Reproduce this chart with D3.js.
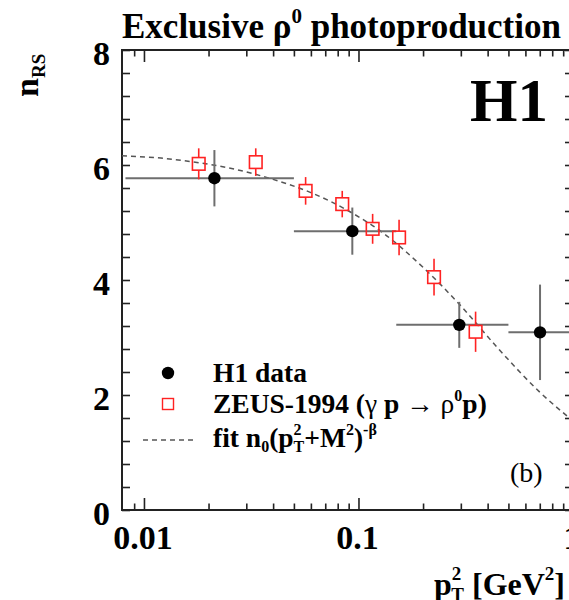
<!DOCTYPE html>
<html>
<head>
<meta charset="utf-8">
<script src="https://cdn.jsdelivr.net/npm/d3@7"></script>
<style>
  html, body { margin: 0; padding: 0; background: #fff; }
  svg { display: block; }
  text { font-family: "Liberation Serif", "Times New Roman", serif; }
</style>
</head>
<body>
<script>
// H1 measurement: bin centres, bin edges, n_RS values and errors
const h1X    = [0.0213, 0.0936, 0.295, 0.702];
const h1XLo  = [0.0082, 0.05, 0.15, 0.5];
const h1XHi  = [0.05, 0.15, 0.5, 1.0];
const h1Y    = [5.77, 4.85, 3.22, 3.09];
const h1Err  = [0.49, 0.41, 0.40, 0.83];

// ZEUS-1994 points
const zeusX   = [0.0180, 0.0332, 0.0567, 0.0840, 0.1164, 0.1546, 0.2250, 0.3515];
const zeusY   = [6.02, 6.05, 5.55, 5.32, 4.89, 4.74, 4.05, 3.10];
const zeusErr = [0.27, 0.24, 0.24, 0.23, 0.26, 0.31, 0.32, 0.35];

// fitted curve n0 (pT^2 + M^2)^-beta, sampled
const fitX = [0.0079, 0.012, 0.018, 0.027, 0.04, 0.06, 0.09, 0.13, 0.2, 0.3, 0.45, 0.7, 1.0];
const fitY = [6.16, 6.12, 6.04, 5.92, 5.75, 5.52, 5.20, 4.82, 4.22, 3.55, 2.80, 2.05, 1.55];

// axis ticks
const xMajorTicks = [0.01, 0.1, 1];
const xTickLabels = ["0.01", "0.1", "1"];
const xMinorTicks = [0.009, 0.02, 0.03, 0.04, 0.05, 0.06, 0.07, 0.08, 0.09,
                     0.2, 0.3, 0.4, 0.5, 0.6, 0.7, 0.8, 0.9];
const yMajorTicks = [0, 2, 4, 6, 8];
const yTickLabels = ["0", "2", "4", "6", "8"];
const yMinorTicks = [0.4, 0.8, 1.2, 1.6, 2.4, 2.8, 3.2, 3.6, 4.4, 4.8, 5.2, 5.6, 6.4, 6.8, 7.2, 7.6];

const W = 569, H = 600;
const svg = d3.select("body").append("svg").attr("width", W).attr("height", H);

const x = d3.scaleLog().domain([0.0079, 1]).range([122, 573]);
const y = d3.scaleLinear().domain([0, 8]).range([510, 50]);

const axisColor = "#222";

// frame
svg.append("rect")
  .attr("x", x.range()[0]).attr("y", y.range()[1])
  .attr("width", x.range()[1] - x.range()[0])
  .attr("height", y.range()[0] - y.range()[1])
  .attr("fill", "none").attr("stroke", axisColor).attr("stroke-width", 2);

function tickAxis(axisFn, scale, values, size, transform) {
  const g = svg.append("g").attr("transform", transform)
    .call(axisFn(scale).tickValues(values).tickSize(size).tickFormat(""));
  g.select(".domain").remove();
  g.selectAll(".tick line").attr("stroke", axisColor).attr("stroke-width", 1.6);
  return g;
}
// bottom & top
tickAxis(d3.axisTop, x, xMajorTicks, 12, `translate(0,${y(0)})`);
tickAxis(d3.axisTop, x, xMinorTicks, 6.5, `translate(0,${y(0)})`);
tickAxis(d3.axisBottom, x, xMajorTicks, 12, `translate(0,${y(8)})`);
tickAxis(d3.axisBottom, x, xMinorTicks, 6.5, `translate(0,${y(8)})`);
// left & right
tickAxis(d3.axisRight, y, yMajorTicks, 8, `translate(${x(0.0079)},0)`);
tickAxis(d3.axisRight, y, yMinorTicks, 8, `translate(${x(0.0079)},0)`);
tickAxis(d3.axisLeft, y, yMajorTicks, 8, `translate(${x(1)},0)`);
tickAxis(d3.axisLeft, y, yMinorTicks, 8, `translate(${x(1)},0)`);

// tick labels
svg.append("g").selectAll("text").data(xMajorTicks).join("text")
  .attr("x", d => x(d) - 1).attr("y", 549)
  .attr("text-anchor", "middle").attr("font-size", 34).attr("font-weight", "bold")
  .text((d, i) => xTickLabels[i]);
svg.append("g").selectAll("text").data(yMajorTicks).join("text")
  .attr("x", 110).attr("y", d => y(d) + 14.5)
  .attr("text-anchor", "end").attr("font-size", 34).attr("font-weight", "bold")
  .text((d, i) => yTickLabels[i]);

// title
const title = svg.append("text").attr("x", 122).attr("y", 38)
  .attr("font-size", 35).attr("font-weight", "bold");
title.append("tspan").text("Exclusive \u03C1");
title.append("tspan").attr("font-size", 21).attr("dy", -15).text("0");
title.append("tspan").attr("dy", 15).text(" photoproduction");

// y-axis title
const yt = svg.append("text").attr("transform", "translate(38,97) rotate(-90)")
  .attr("font-size", 34).attr("font-weight", "bold");
yt.append("tspan").text("n");
yt.append("tspan").attr("font-size", 19).attr("dy", 7).text("RS");

// x-axis title
const xt = svg.append("text").attr("x", 434).attr("y", 595)
  .attr("font-size", 32).attr("font-weight", "bold");
xt.append("tspan").text("p");
xt.append("tspan").attr("font-size", 19).attr("dy", -15).text("2");
xt.append("tspan").attr("font-size", 19).attr("dx", -10).attr("dy", 21).text("T");
xt.append("tspan").attr("dy", -6).text(" [GeV");
xt.append("tspan").attr("font-size", 19).attr("dy", -15).text("2");
xt.append("tspan").attr("dy", 15).text("]");

// H1 label and panel tag
svg.append("text").attr("x", 470).attr("y", 121)
  .attr("font-size", 61).attr("font-weight", "bold").text("H1");
svg.append("text").attr("x", 510).attr("y", 482)
  .attr("font-size", 28).text("(b)");

// fit curve
const fitPts = fitX.map((v, i) => [v, fitY[i]]);
svg.append("path")
  .attr("d", d3.line().x(d => x(d[0])).y(d => y(d[1])).curve(d3.curveMonotoneX)(fitPts))
  .attr("fill", "none").attr("stroke", "#555").attr("stroke-width", 1.5)
  .attr("stroke-dasharray", "5,4");

// H1 points with error bars
const h1 = h1X.map((v, i) => ({ x: v, lo: h1XLo[i], hi: h1XHi[i], y: h1Y[i], e: h1Err[i] }));
const gH1 = svg.append("g");
gH1.selectAll("line.h").data(h1).join("line").attr("class", "h")
  .attr("x1", d => x(d.lo)).attr("x2", d => x(d.hi))
  .attr("y1", d => y(d.y)).attr("y2", d => y(d.y))
  .attr("stroke", "#6e6e6e").attr("stroke-width", 2);
gH1.selectAll("line.v").data(h1).join("line").attr("class", "v")
  .attr("x1", d => x(d.x)).attr("x2", d => x(d.x))
  .attr("y1", d => y(d.y - d.e)).attr("y2", d => y(d.y + d.e))
  .attr("stroke", "#6e6e6e").attr("stroke-width", 2);
gH1.selectAll("circle").data(h1).join("circle")
  .attr("cx", d => x(d.x)).attr("cy", d => y(d.y)).attr("r", 6.2).attr("fill", "#000");

// ZEUS points with error bars
const red = "#f22";
const half = 6.3;
const zeus = zeusX.map((v, i) => ({ x: v, y: zeusY[i], e: zeusErr[i] }));
const gZ = svg.append("g");
gZ.selectAll("line.up").data(zeus).join("line").attr("class", "up")
  .attr("x1", d => x(d.x)).attr("x2", d => x(d.x))
  .attr("y1", d => y(d.y) - half).attr("y2", d => y(d.y + d.e))
  .attr("stroke", red).attr("stroke-width", 1.6);
gZ.selectAll("line.dn").data(zeus).join("line").attr("class", "dn")
  .attr("x1", d => x(d.x)).attr("x2", d => x(d.x))
  .attr("y1", d => y(d.y) + half).attr("y2", d => y(d.y - d.e))
  .attr("stroke", red).attr("stroke-width", 1.6);
gZ.selectAll("rect").data(zeus).join("rect")
  .attr("x", d => x(d.x) - half).attr("y", d => y(d.y) - half)
  .attr("width", 2 * half).attr("height", 2 * half)
  .attr("fill", "none").attr("stroke", red).attr("stroke-width", 1.6);

// legend
const lg = svg.append("g");
lg.append("circle").attr("cx", 168).attr("cy", 373).attr("r", 6.2).attr("fill", "#000");
lg.append("rect").attr("x", 168 - 5.5).attr("y", 404 - 5.5).attr("width", 11).attr("height", 11)
  .attr("fill", "none").attr("stroke", red).attr("stroke-width", 1.4);
lg.append("line").attr("x1", 143).attr("x2", 193).attr("y1", 440).attr("y2", 440)
  .attr("stroke", "#555").attr("stroke-width", 1.5).attr("stroke-dasharray", "5,4");

const fs = 27.5, fsSmall = 16;
lg.append("text").attr("x", 213).attr("y", 382).attr("font-size", fs).attr("font-weight", "bold")
  .text("H1 data");
const zt = lg.append("text").attr("x", 213).attr("y", 413).attr("font-size", fs).attr("font-weight", "bold");
zt.append("tspan").text("ZEUS-1994 (");
zt.append("tspan").attr("font-weight", "normal").text("\u03B3");
zt.append("tspan").text(" p ");
zt.append("tspan").text("\u2192 ");
zt.append("tspan").attr("font-weight", "normal").text("\u03C1");
zt.append("tspan").attr("font-size", fsSmall).attr("dy", -12).text("0");
zt.append("tspan").attr("dy", 12).text("p)");
const ft = lg.append("text").attr("x", 213).attr("y", 447).attr("font-size", fs).attr("font-weight", "bold");
ft.append("tspan").text("fit n");
ft.append("tspan").attr("font-size", fsSmall).attr("dy", 5).text("0");
ft.append("tspan").attr("dy", -5).text("(p");
ft.append("tspan").attr("font-size", fsSmall).attr("dy", -12).text("2");
ft.append("tspan").attr("font-size", fsSmall).attr("dx", -8).attr("dy", 17).text("T");
ft.append("tspan").attr("dy", -5).text("+M");
ft.append("tspan").attr("font-size", fsSmall).attr("dy", -12).text("2");
ft.append("tspan").attr("dy", 12).text(")");
ft.append("tspan").attr("font-size", fsSmall).attr("dy", -12).text("-\u03B2");
</script>
</body>
</html>
